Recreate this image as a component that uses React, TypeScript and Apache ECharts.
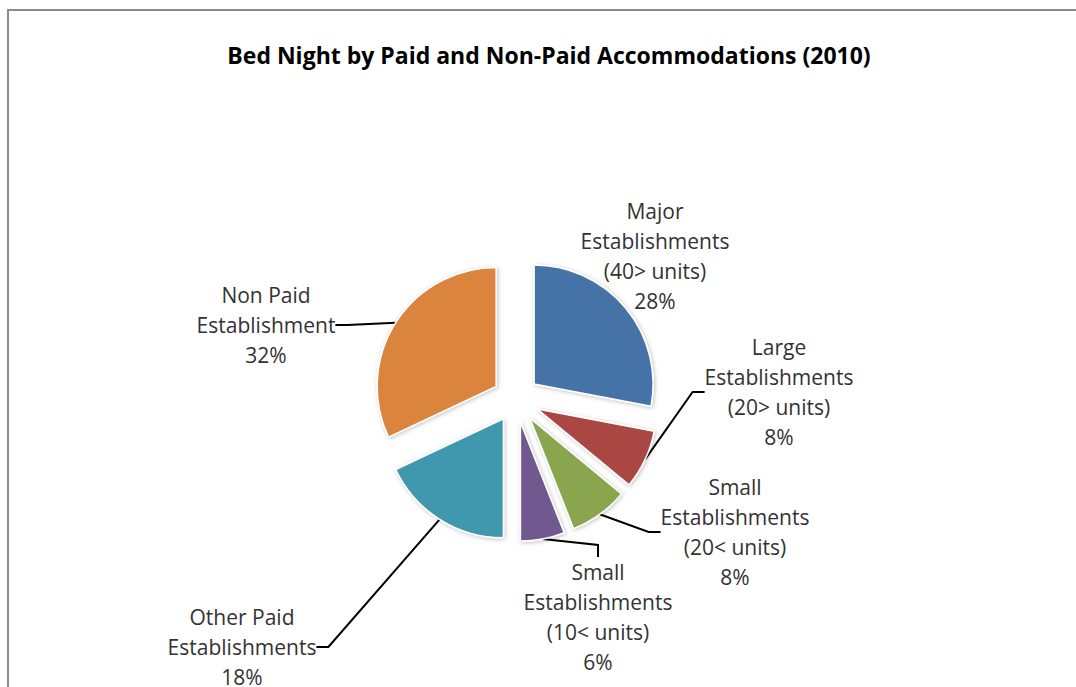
import React, { useEffect, useRef } from 'react';
import * as echarts from 'echarts';

const titleText = 'Bed Night by Paid and Non-Paid Accommodations (2010)';
const categories = [
  'Major\nEstablishments\n(40> units)',
  'Large\nEstablishments\n(20> units)',
  'Small\nEstablishments\n(20< units)',
  'Small\nEstablishments\n(10< units)',
  'Other Paid\nEstablishments',
  'Non Paid\nEstablishment',
];
const values = [28, 8, 8, 6, 18, 32];
const colors = ['#4572A7', '#AA4643', '#89A54E', '#71588F', '#4198AF', '#DB843D'];
const labelCenters = [
  [655, 256],
  [779, 392],
  [735, 532],
  [598, 617],
  [242, 647],
  [266, 325],
];
const showLeader = [false, true, true, true, true, true];

const CENTER = [516, 399];
const RADIUS = 119;
const EXPLODE = 23.5;

export default function App() {
  const ref = useRef<HTMLDivElement>(null);
  useEffect(() => {
    if (!ref.current) return;
    const chart = echarts.init(ref.current, null, { renderer: 'svg' });
    const sliceData = values.map((v, i) => ({
      name: categories[i],
      value: v,
      selected: true,
      itemStyle: { color: colors[i] },
    }));
    const labelData = values.map((v, i) => ({
      name: categories[i],
      value: v,
      labelLine: { show: showLeader[i] },
    }));
    chart.setOption({
      animation: false,
      backgroundColor: '#ffffff',
      title: {
        text: titleText,
        left: 544,
        top: 38,
        textAlign: 'center',
        textStyle: {
          fontFamily: 'Open Sans',
          fontWeight: 'bold',
          fontSize: 23,
          color: '#000000',
        },
      },
      graphic: [
        {
          type: 'line',
          shape: { x1: 8, y1: 10, x2: 8, y2: 700 },
          style: { stroke: '#8a8a8a', lineWidth: 2 },
        },
        {
          type: 'line',
          shape: { x1: 7, y1: 10, x2: 1080, y2: 10 },
          style: { stroke: '#8a8a8a', lineWidth: 2 },
        },
      ],
      series: [
        {
          type: 'pie',
          center: CENTER,
          radius: RADIUS,
          startAngle: 90,
          clockwise: true,
          selectedMode: 'multiple',
          selectedOffset: EXPLODE,
          silent: true,
          emphasis: { disabled: true },
          itemStyle: {
            borderColor: '#ffffff',
            borderWidth: 1.5,
            shadowBlur: 4,
            shadowColor: 'rgba(0,0,0,0.25)',
            shadowOffsetX: 1,
            shadowOffsetY: 1,
          },
          label: { show: false },
          labelLine: { show: false },
          data: sliceData,
        },
        {
          type: 'pie',
          center: CENTER,
          radius: RADIUS + EXPLODE,
          startAngle: 90,
          clockwise: true,
          silent: true,
          avoidLabelOverlap: false,
          percentPrecision: 0,
          emphasis: { disabled: true },
          itemStyle: { color: 'rgba(0,0,0,0)', borderWidth: 0 },
          label: {
            show: true,
            position: 'outside',
            formatter: '{b}\n{d}%',
            fontFamily: 'Open Sans',
            fontSize: 21,
            lineHeight: 30,
            color: '#333333',
            align: 'center',
          },
          labelLine: {
            show: true,
            length: 10,
            length2: 12,
            lineStyle: { color: '#000000', width: 2 },
          },
          labelLayout: (params: any) => {
            const p = labelCenters[params.dataIndex];
            return { x: p[0], y: p[1], align: 'center', verticalAlign: 'middle' };
          },
          data: labelData,
        },
      ],
    });
    return () => chart.dispose();
  }, []);
  return (
    <div
      ref={ref}
      style={{ position: 'fixed', left: 0, top: 0, width: 1076, height: 687 }}
    />
  );
}
